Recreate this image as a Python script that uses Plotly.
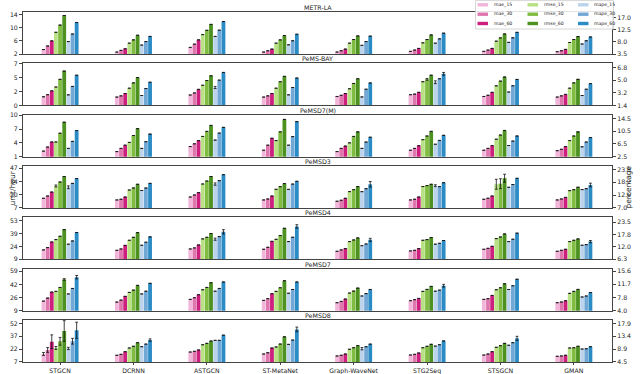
import numpy as np
import plotly.graph_objects as go
from plotly.subplots import make_subplots

MODELS = ["STGCN", "DCRNN", "ASTGCN", "ST-MetaNet", "Graph-WaveNet", "STG2Seq", "STSGCN", "GMAN"]
DATASETS = ["METR-LA", "PeMS-BAY", "PeMSD7(M)", "PeMSD3", "PeMSD4", "PeMSD7", "PeMSD8"]
HORIZONS = [15, 30, 60]

# each metric: [15 min], [30 min], [60 min], one value per model
METR_LA_MAE = [[3.35, 2.6, 4.0, 2.6, 2.6, 2.8, 2.8, 2.7],
               [4.45, 3.1, 5.0, 3.0, 3.0, 3.2, 3.2, 3.0],
               [6.0, 3.6, 6.3, 3.5, 3.5, 3.7, 3.7, 3.4]]
METR_LA_RMSE = [[8.6, 5.3, 7.9, 5.3, 5.3, 5.4, 5.9, 5.5],
                [10.8, 6.3, 9.2, 6.3, 6.4, 6.4, 6.9, 6.4],
                [13.7, 7.7, 11.0, 7.6, 7.5, 7.8, 8.1, 7.3]]
METR_LA_MAPE = [[8.1, 6.8, 10.0, 6.9, 6.7, 7.5, 7.8, 7.2],
                [10.9, 8.1, 12.3, 8.4, 8.1, 9.1, 9.5, 8.4],
                [15.15, 10.0, 15.5, 10.8, 10.1, 11.2, 11.5, 9.8]]

PEMS_BAY_MAE = [[1.45, 1.4, 1.75, 1.4, 1.5, 1.8, 1.5, 1.4],
                [1.8, 1.6, 2.1, 1.6, 1.7, 1.9, 1.7, 1.6],
                [2.45, 2.0, 2.7, 2.0, 2.0, 2.2, 2.2, 1.85]]
PEMS_BAY_RMSE = [[3.1, 2.9, 3.4, 2.9, 2.8, 4.0, 3.3, 2.9],
                 [4.4, 3.8, 4.2, 4.0, 3.7, 4.4, 4.1, 3.8],
                 [5.8, 4.7, 5.0, 4.9, 4.5, 5.1, 4.8, 4.4]]
PEMS_BAY_MAPE = [[2.9, 2.8, 3.95, 2.9, 2.6, 4.7, 3.3, 2.8],
                 [4.1, 3.8, 5.0, 3.95, 3.7, 5.2, 4.2, 3.7],
                 [5.7, 4.7, 6.1, 5.3, 4.6, 5.9, 5.1, 4.5]]

PEMSD7M_MAE = [[2.2, 2.1, 3.2, 2.4, 2.1, 2.4, 2.4, 2.3],
               [3.1, 2.8, 3.8, 3.5, 2.8, 2.8, 2.8, 2.6],
               [4.2, 3.5, 4.5, 5.0, 3.3, 3.4, 3.4, 3.2]]
PEMSD7M_RMSE = [[4.2, 4.1, 5.4, 4.5, 4.0, 4.7, 4.8, 4.5],
                [6.1, 5.6, 6.5, 6.4, 5.4, 5.5, 5.7, 5.5],
                [8.5, 7.1, 7.8, 9.1, 6.4, 6.5, 6.7, 6.4]]
PEMSD7M_MAPE = [[5.1, 5.1, 7.7, 6.1, 5.1, 6.4, 6.0, 5.6],
                [7.3, 7.2, 9.9, 8.8, 7.1, 7.6, 7.4, 7.1],
                [10.7, 9.6, 11.7, 13.5, 8.6, 9.2, 9.0, 8.5]]

PEMSD3_MAE = [[16.8, 15.1, 18.1, 15.1, 13.8, 15.1, 15.8, 15.1],
              [19.1, 15.8, 20.1, 16.1, 14.8, 15.8, 16.8, 16.1],
              [23.1, 18.1, 22.5, 19.1, 16.8, 18.1, 19.1, 17.7]]
PEMSD3_RMSE = [[29.2, 25.1, 31.2, 25.8, 23.5, 28.6, 30.9, 24.5],
               [33.2, 27.2, 34.2, 28.5, 25.5, 29.6, 31.5, 25.5],
               [38.7, 30.9, 38.7, 31.6, 28.6, 30.9, 37.0, 27.9]]
PEMSD3_MAPE = [[16.0, 14.6, 17.4, 15.1, 14.1, 16.7, 16.0, 15.0],
               [17.7, 15.7, 18.9, 17.4, 15.4, 16.3, 17.2, 15.4],
               [19.8, 17.7, 21.5, 18.6, 17.3, 18.0, 19.9, 17.0]]

PEMSD4_MAE = [[19.8, 19.3, 20.9, 20.5, 18.2, 18.6, 20.5, 18.2],
              [22.4, 20.9, 22.1, 22.8, 19.8, 19.3, 21.6, 19.3],
              [28.9, 25.0, 25.5, 29.6, 21.3, 21.3, 23.9, 20.5]]
PEMSD4_RMSE = [[31.6, 30.8, 32.4, 31.9, 29.3, 30.8, 32.7, 29.3],
               [35.4, 34.2, 34.2, 36.2, 31.2, 31.6, 34.6, 30.8],
               [43.0, 39.6, 38.5, 44.5, 33.5, 33.9, 38.1, 32.4]]
PEMSD4_MAPE = [[13.3, 12.8, 15.6, 14.5, 12.6, 13.3, 14.5, 12.8],
               [14.8, 14.2, 16.8, 16.5, 13.4, 13.7, 15.6, 13.1],
               [18.7, 16.7, 19.0, 21.5, 15.3, 15.0, 18.4, 14.5]]

PEMSD7_MAE = [[21.1, 19.9, 23.3, 22.0, 19.1, 21.6, 23.3, 19.1],
              [24.9, 22.4, 25.4, 24.2, 20.7, 22.9, 24.2, 19.9],
              [32.5, 27.1, 29.2, 30.5, 23.7, 24.5, 28.3, 21.6]]
PEMSD7_RMSE = [[33.4, 32.1, 35.5, 33.4, 31.3, 33.4, 35.5, 30.9],
               [38.4, 35.0, 38.4, 38.0, 33.8, 35.9, 38.0, 33.4],
               [48.5, 41.0, 44.4, 46.9, 37.6, 39.7, 43.1, 35.9]]
PEMSD7_MAPE = [[8.9, 8.9, 9.7, 9.1, 8.3, 9.7, 10.2, 8.0],
               [10.5, 9.7, 10.5, 10.2, 9.0, 10.0, 11.3, 8.3],
               [13.8, 12.0, 12.4, 12.4, 10.2, 11.3, 13.2, 9.3]]

PEMSD8_MAE = [[16.3, 14.8, 18.6, 16.3, 14.0, 15.1, 15.1, 13.6],
              [21.0, 15.9, 19.4, 17.8, 14.8, 15.9, 16.3, 14.0],
              [30.6, 19.0, 21.0, 23.3, 16.3, 17.5, 19.0, 14.8]]
PEMSD8_RMSE = [[23.3, 23.3, 27.1, 24.5, 21.8, 23.6, 24.1, 23.3],
               [31.1, 25.3, 28.7, 27.9, 23.6, 25.3, 26.0, 23.6],
               [43.1, 29.5, 31.4, 36.4, 26.0, 27.6, 28.7, 25.3]]
PEMSD8_MAPE = [[9.2, 9.8, 12.0, 10.6, 9.1, 10.0, 10.3, 9.0],
               [11.7, 10.7, 12.0, 12.1, 9.8, 10.5, 11.2, 9.1],
               [15.5, 12.1, 13.8, 15.8, 10.7, 11.8, 12.7, 9.8]]

# visible error bars: (dataset, model, series, error)
ERRORS = [
    ("PeMS-BAY", "STG2Seq", "rmse_30", 0.15), ("PeMS-BAY", "STG2Seq", "mape_15", 0.2),
    ("PeMS-BAY", "STG2Seq", "mape_60", 0.2), ("PeMS-BAY", "ASTGCN", "mape_15", 0.15),
    ("PeMSD3", "STSGCN", "rmse_15", 5.0), ("PeMSD3", "STSGCN", "rmse_30", 5.0),
    ("PeMSD3", "STSGCN", "rmse_60", 4.0), ("PeMSD3", "Graph-WaveNet", "mape_60", 1.2),
    ("PeMSD3", "STGCN", "rmse_15", 1.0), ("PeMSD3", "STGCN", "mape_15", 0.6),
    ("PeMSD3", "GMAN", "mape_60", 0.8), ("PeMSD3", "ASTGCN", "mape_15", 0.5),
    ("PeMSD3", "STG2Seq", "mape_15", 0.4),
    ("PeMSD4", "ST-MetaNet", "mape_60", 0.8), ("PeMSD4", "Graph-WaveNet", "mape_60", 0.7),
    ("PeMSD4", "ASTGCN", "mape_60", 1.0), ("PeMSD4", "ASTGCN", "mape_15", 0.5),
    ("PeMSD4", "GMAN", "mape_60", 0.5),
    ("PeMSD7", "STGCN", "mape_60", 0.5), ("PeMSD7", "STGCN", "rmse_60", 1.0),
    ("PeMSD7", "STG2Seq", "mape_60", 0.4),
    ("PeMSD8", "STGCN", "mae_15", 1.7), ("PeMSD8", "STGCN", "mae_30", 2.8),
    ("PeMSD8", "STGCN", "mae_60", 8.0), ("PeMSD8", "STGCN", "rmse_15", 1.7),
    ("PeMSD8", "STGCN", "rmse_30", 4.5), ("PeMSD8", "STGCN", "rmse_60", 12.0),
    ("PeMSD8", "STGCN", "mape_15", 0.4), ("PeMSD8", "STGCN", "mape_30", 1.0),
    ("PeMSD8", "STGCN", "mape_60", 2.8), ("PeMSD8", "ST-MetaNet", "mape_60", 0.8),
    ("PeMSD8", "STSGCN", "mape_60", 0.7), ("PeMSD8", "DCRNN", "mape_60", 0.4),
    ("PeMSD8", "Graph-WaveNet", "mape_15", 0.4),
]

LEFT_TICKS = [["2", "6", "10", "14"], ["0", "2", "5", "7"], ["1", "4", "7", "10"],
              ["7", "20", "34", "47"], ["9", "24", "39", "53"], ["9", "26", "42", "59"],
              ["7", "22", "37", "52"]]
RIGHT_TICKS = [["3.5", "8.0", "12.5", "17.0"], ["1.4", "3.2", "5.0", "6.8"],
               ["2.5", "6.5", "10.5", "14.5"], ["7.0", "12.6", "18.2", "23.8"],
               ["6.3", "12.0", "17.8", "23.5"], ["4.0", "7.8", "11.7", "15.6"],
               ["4.5", "8.9", "13.4", "17.9"]]

DATA = {
    "METR-LA": (METR_LA_MAE, METR_LA_RMSE, METR_LA_MAPE),
    "PeMS-BAY": (PEMS_BAY_MAE, PEMS_BAY_RMSE, PEMS_BAY_MAPE),
    "PeMSD7(M)": (PEMSD7M_MAE, PEMSD7M_RMSE, PEMSD7M_MAPE),
    "PeMSD3": (PEMSD3_MAE, PEMSD3_RMSE, PEMSD3_MAPE),
    "PeMSD4": (PEMSD4_MAE, PEMSD4_RMSE, PEMSD4_MAPE),
    "PeMSD7": (PEMSD7_MAE, PEMSD7_RMSE, PEMSD7_MAPE),
    "PeMSD8": (PEMSD8_MAE, PEMSD8_RMSE, PEMSD8_MAPE),
}

COLORS = {
    "mae": ["#f1b6da", "#de77ae", "#cc1f7e"],
    "rmse": ["#b8e186", "#7fbc41", "#4d9221"],
    "mape": ["#bcd3ec", "#72a8d6", "#2b8bc4"],
}

# layout in pixels; margins are zero so paper coords == whole canvas
W, H = 640, 374
X0, X1 = 23, 612          # plot area left/right
Y0 = 12                   # top of first panel
PANEL_H = 42
PITCH = 51.33
TOP_FRAC_L = [0.94, 0.985, 0.985, 0.945, 0.915, 0.94, 0.92]
TOP_FRAC_R = [0.87, 0.9, 0.91, 0.92, 0.886, 0.943, 0.92]
BAR_STEP, BAR_W = 0.0565, 0.052
FONT = "DejaVu Sans"


def px_x(px):
    return px / W


def px_y(py):
    return 1 - py / H


fig = make_subplots(rows=7, cols=1, specs=[[{"secondary_y": True}]] * 7,
                    shared_xaxes=True, vertical_spacing=0.02)

for i, ds in enumerate(DATASETS):
    row = i + 1
    for k, metric in enumerate(["mae", "rmse", "mape"]):
        for h, hz in enumerate(HORIZONS):
            name = f"{metric}_{hz}"
            j = k * 3 + h
            err = [0.0] * len(MODELS)
            for d, m, s, e in ERRORS:
                if d == ds and s == name:
                    err[MODELS.index(m)] = e
            fig.add_trace(go.Bar(
                x=MODELS, y=DATA[ds][k][h], name=name,
                offset=-4.5 * BAR_STEP + j * BAR_STEP + (BAR_STEP - BAR_W) / 2,
                width=BAR_W, marker=dict(color=COLORS[metric][h], line=dict(width=0)),
                error_y=dict(type="data", array=err, color="#111", thickness=0.8, width=1.4),
                showlegend=False,
            ), row=row, col=1, secondary_y=(metric == "mape"))

    top_px = Y0 + i * PITCH
    dom = [px_y(top_px + PANEL_H), px_y(top_px)]
    lt = [float(t) for t in LEFT_TICKS[i]]
    rt = [float(t) for t in RIGHT_TICKS[i]]
    lvals = np.linspace(lt[0], lt[-1], 4)
    rvals = np.linspace(rt[0], rt[-1], 4)
    fig.update_yaxes(row=row, col=1, secondary_y=False, domain=dom, automargin=False,
                     range=[lt[0], lt[0] + (lt[-1] - lt[0]) / TOP_FRAC_L[i]],
                     tickvals=lvals, ticktext=LEFT_TICKS[i],
                     showline=True, mirror=True, linecolor="#444", linewidth=1,
                     ticks="outside", ticklen=3, tickwidth=0.8, tickcolor="#444",
                     showgrid=False, zeroline=False)
    fig.update_yaxes(row=row, col=1, secondary_y=True, automargin=False,
                     range=[rt[0], rt[0] + (rt[-1] - rt[0]) / TOP_FRAC_R[i]],
                     tickvals=rvals, ticktext=RIGHT_TICKS[i],
                     ticks="outside", ticklen=3, tickwidth=0.8, tickcolor="#444",
                     showgrid=False, zeroline=False, showline=False)
    fig.update_xaxes(row=row, col=1, domain=[px_x(X0), px_x(X1)], range=[-0.505, 7.52],
                     showline=True, mirror=True, linecolor="#444", linewidth=1,
                     showgrid=False, automargin=False,
                     ticks="outside" if row == 7 else "", ticklen=2.5, tickwidth=0.8,
                     tickcolor="#444", showticklabels=(row == 7))
    fig.add_annotation(text=ds, xref="paper", yref="paper", x=px_x((X0 + X1) / 2), y=dom[1],
                       xanchor="center", yanchor="bottom", showarrow=False,
                       font=dict(size=6.3, color="#222"), yshift=-1)

fig.add_annotation(text="unit/hour", xref="paper", yref="paper", x=px_x(5), y=px_y(188),
                   textangle=-90, showarrow=False, font=dict(size=7.5, color="#222"))
fig.add_annotation(text="percentage", xref="paper", yref="paper", x=px_x(634), y=px_y(187),
                   textangle=-90, showarrow=False, font=dict(size=7.5, color="#222"))

# legend box drawn by hand (three columns: mae / rmse / mape)
fig.add_shape(type="rect", xref="paper", yref="paper",
              x0=px_x(475.5), x1=px_x(613.5), y0=px_y(29), y1=px_y(0.6),
              fillcolor="rgba(255,255,255,0.85)", line=dict(color="#cccccc", width=0.8))
sw_x = [477.5, 527.5, 578]
tx_x = [491.5, 541.5, 591.5]
row_y = [4.8, 14.2, 23.5]
for k, metric in enumerate(["mae", "rmse", "mape"]):
    for h, hz in enumerate(HORIZONS):
        fig.add_shape(type="rect", xref="paper", yref="paper",
                      x0=px_x(sw_x[k]), x1=px_x(sw_x[k] + 10.5),
                      y0=px_y(row_y[h] + 1.7), y1=px_y(row_y[h] - 1.7),
                      fillcolor=COLORS[metric][h], line=dict(width=0))
        fig.add_annotation(text=f"{metric}_{hz}", xref="paper", yref="paper",
                           x=px_x(tx_x[k]), y=px_y(row_y[h]), xanchor="left", yanchor="middle",
                           showarrow=False, font=dict(size=4.6, color="#222"))

fig.update_layout(width=W, height=H, margin=dict(l=0, r=0, t=0, b=0, pad=0),
                  barmode="overlay", plot_bgcolor="white", paper_bgcolor="white",
                  font=dict(family=FONT, size=6.2, color="#222"), showlegend=False)
# the page body keeps its default 8px margin otherwise
fig.write_html("out.html", config={"displayModeBar": False},
               post_script="document.body.style.margin='0';")
